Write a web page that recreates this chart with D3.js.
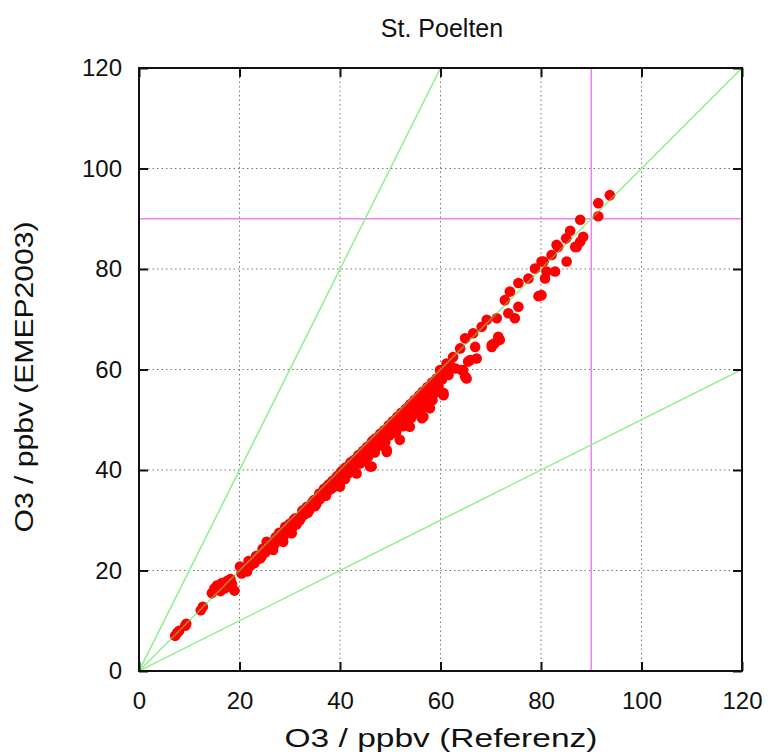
<!DOCTYPE html>
<html>
<head>
<meta charset="utf-8">
<script src="https://cdn.jsdelivr.net/npm/d3@7"></script>
<style>
  body { margin: 0; background: #fff; }
  text { font-family: "Liberation Sans", Arial, sans-serif; fill: #111; }
</style>
</head>
<body>
<div id="chart"></div>
<script>
// O3 reference (x) vs EMEP2003 model (y), ppbv
const refO3 = [
  7.2, 7.6, 8.0, 9.2, 9.4, 12.3, 12.7, 14.5, 15.0, 15.5, 16.0, 16.5, 16.2, 17.0, 17.5, 18.0, 18.5, 19.0, 18.2, 17.3,
  20.1, 20.4, 21.2, 21.8, 22.7, 23.3, 24.1, 24.6, 25.4, 25.9, 26.7, 27.2, 27.9, 28.7, 29.1, 29.6, 30.4, 30.8, 31.4, 32.0,
  32.5, 33.0, 33.4, 33.9, 34.5, 35.0, 35.4, 35.9,
  20.8, 21.5, 22.2, 23.0, 23.8, 24.4, 25.1, 25.7, 26.3, 27.0, 27.6, 28.2, 28.9, 29.4, 30.0, 30.6, 31.1, 31.8, 32.3, 32.8,
  33.6, 34.2, 34.8, 35.3, 35.7,
  36.3, 36.8, 37.2, 37.6, 38.0, 38.5, 38.9, 39.3, 39.8, 40.0, 40.2, 40.7, 41.1, 41.5, 42.0, 42.4, 42.8, 43.3, 43.3, 43.7,
  44.1, 44.6, 45.0, 45.4, 45.8, 46.0, 46.3, 46.3, 46.7, 47.1, 47.5, 48.0, 48.4, 48.8, 49.3, 49.3, 49.2, 49.7, 50.1, 50.5,
  51.0, 51.4, 51.9, 51.8, 52.2, 52.7, 53.1, 53.5, 53.9, 54.0, 54.4, 54.8, 55.2, 55.7, 56.1, 56.3, 56.6, 56.5, 57.0, 57.4,
  57.9, 57.8, 58.3, 58.7, 59.2, 59.6, 59.9, 60.6, 60.6, 60.3, 60.8, 61.2, 61.6, 62.0, 62.5, 63.0, 63.9, 64.2, 64.5, 64.9,
  36.0, 36.6, 37.0, 37.4, 37.9, 38.3, 38.7, 39.1, 39.6, 40.0, 40.5, 40.9, 41.3, 41.8, 42.2, 42.6, 43.0, 43.5, 43.9, 44.4,
  44.8, 45.2, 45.6, 46.1, 46.5, 46.9, 47.3, 47.8, 48.2, 48.6, 49.0, 49.5, 49.9, 50.3, 50.8, 51.2, 51.6, 52.0, 52.5, 52.9,
  53.3, 53.7, 54.2, 54.6, 55.0, 55.4, 55.9, 56.3, 56.8, 57.2, 57.6, 58.1, 58.5, 58.9, 59.4, 60.0,
  41.0, 44.0, 47.0, 50.6, 53.0, 55.6, 58.4,
  64.9, 65.2, 65.5, 65.9, 66.5, 66.9, 67.2, 68.2, 69.2, 70.2, 70.2, 70.8, 71.2, 71.5, 71.8, 72.8, 73.5, 73.8, 74.8, 75.5,
  75.5, 77.5, 78.8, 79.5, 80.1, 80.1, 80.5, 80.8, 81.1, 82.1, 82.8, 83.1, 83.4, 85.0, 85.1, 85.8, 86.8, 87.1, 87.8, 87.8,
  88.4, 91.4, 91.4, 93.7
];
const emepO3 = [
  7.0, 7.6, 8.0, 9.0, 9.4, 12.1, 12.8, 15.5, 16.4, 17.0, 16.6, 17.5, 15.9, 16.4, 17.9, 16.8, 17.3, 16.0, 18.3, 16.9,
  20.8, 19.4, 20.5, 21.9, 21.8, 22.9, 22.4, 24.3, 25.7, 24.8, 24.1, 26.6, 27.5, 25.7, 28.7, 27.8, 27.4, 30.1, 29.2, 30.0,
  31.9, 31.2, 32.7, 32.0, 33.6, 32.8, 34.0, 35.3,
  19.9, 19.8, 21.0, 21.5, 23.0, 22.8, 23.6, 25.0, 25.1, 25.2, 26.0, 27.3, 27.0, 28.0, 29.3, 28.6, 30.4, 30.3, 30.6, 32.1,
  31.5, 32.9, 34.0, 33.2, 34.6,
  35.0, 36.2, 34.9, 36.9, 36.1, 37.8, 36.7, 38.6, 37.5, 36.7, 39.6, 38.4, 40.5, 39.2, 41.3, 40.0, 42.0, 39.3, 41.2, 43.0,
  42.1, 43.8, 41.9, 44.6, 43.5, 40.7, 45.5, 40.7, 44.0, 46.3, 45.0, 47.2, 45.7, 47.9, 43.6, 44.0, 46.6, 48.9, 47.5, 49.7,
  48.0, 50.6, 46.0, 49.2, 51.4, 50.0, 52.2, 50.8, 48.6, 53.1, 51.7, 53.9, 52.2, 54.8, 53.0, 50.3, 50.6, 55.6, 54.3, 56.5,
  52.3, 55.0, 57.4, 56.0, 58.2, 56.6, 59.9, 54.9, 55.3, 58.0, 60.0, 61.2, 58.9, 60.7, 62.5, 60.2, 64.2, 59.9, 59.9, 58.6,
  34.2, 35.5, 36.3, 35.6, 37.2, 36.3, 37.9, 37.2, 38.9, 38.1, 39.9, 38.9, 39.9, 40.8, 41.6, 40.6, 41.9, 42.6, 41.4, 43.3,
  42.6, 44.1, 42.7, 44.6, 45.8, 43.5, 45.9, 46.7, 44.9, 47.5, 45.5, 48.2, 46.9, 48.8, 49.8, 47.6, 49.8, 50.7, 48.7, 51.5,
  49.9, 52.7, 50.4, 52.9, 53.8, 51.4, 54.3, 52.2, 55.0, 53.4, 56.2, 54.6, 57.2, 55.3, 57.3, 58.5,
  38.2, 41.3, 44.2, 47.4, 49.3, 51.6, 53.9,
  66.2, 58.2, 61.6, 61.9, 67.2, 64.5, 62.2, 68.5, 69.9, 64.9, 64.5, 65.2, 70.2, 66.5, 65.9, 73.8, 71.2, 75.5, 70.2, 72.5,
  77.2, 78.1, 80.1, 74.6, 74.8, 81.5, 81.5, 78.1, 79.5, 82.8, 79.5, 84.8, 84.4, 86.1, 81.5, 87.6, 84.4, 84.4, 85.4, 89.8,
  86.4, 93.1, 90.5, 94.7
];
const ticks = [0, 20, 40, 60, 80, 100, 120];
const ratioLines = [2, 1, 0.5];     // y = k * x guide lines
const threshold = 90;               // ppbv marker lines

const title = "St. Poelten";
const xTitle = "O3 / ppbv (Referenz)";
const yTitle = "O3 / ppbv (EMEP2003)";

const points = refO3.map((d, i) => ({ x: d, y: emepO3[i] }));

const W = 774, H = 754;
const margin = { top: 68, right: 32, bottom: 83, left: 139 };
const width = W - margin.left - margin.right;
const height = H - margin.top - margin.bottom;

const svg = d3.select("#chart").append("svg")
  .attr("width", W)
  .attr("height", H);

const g = svg.append("g")
  .attr("transform", "translate(" + margin.left + "," + margin.top + ")");

const x = d3.scaleLinear().domain([0, 120]).range([0, width]);
const y = d3.scaleLinear().domain([0, 120]).range([height, 0]);

g.append("clipPath").attr("id", "plot-clip")
  .append("rect").attr("width", width).attr("height", height);

// dotted grid
g.append("g").selectAll("line")
  .data(ticks.slice(1, -1))
  .enter().append("line")
  .attr("x1", d => x(d)).attr("x2", d => x(d))
  .attr("y1", 0).attr("y2", height)
  .attr("stroke", "#777").attr("stroke-width", 1)
  .attr("stroke-dasharray", "1.5,3");
g.append("g").selectAll("line")
  .data(ticks.slice(1, -1))
  .enter().append("line")
  .attr("y1", d => y(d)).attr("y2", d => y(d))
  .attr("x1", 0).attr("x2", width)
  .attr("stroke", "#777").attr("stroke-width", 1)
  .attr("stroke-dasharray", "1.5,3");

// threshold lines
g.append("line")
  .attr("x1", x(threshold)).attr("x2", x(threshold))
  .attr("y1", 0).attr("y2", height)
  .attr("stroke", "#ee82ee").attr("stroke-width", 1.5);
g.append("line")
  .attr("x1", 0).attr("x2", width)
  .attr("y1", y(threshold)).attr("y2", y(threshold))
  .attr("stroke", "#ee82ee").attr("stroke-width", 1.5);

// ratio guide lines
const guides = g.append("g").attr("clip-path", "url(#plot-clip)");
guides.selectAll("line")
  .data(ratioLines)
  .enter().append("line")
  .attr("x1", x(0)).attr("y1", y(0))
  .attr("x2", d => x(120)).attr("y2", d => y(120 * d))
  .attr("stroke", "#90ee90").attr("stroke-width", 1.5);

// points
g.append("g").selectAll("circle")
  .data(points)
  .enter().append("circle")
  .attr("cx", d => x(d.x))
  .attr("cy", d => y(d.y))
  .attr("r", 5.3)
  .attr("fill", "#ff0000");

// 1:1 line shows through the points as a darker stroke
const dotClip = g.append("clipPath").attr("id", "dot-clip");
dotClip.selectAll("circle")
  .data(points)
  .enter().append("circle")
  .attr("cx", d => x(d.x))
  .attr("cy", d => y(d.y))
  .attr("r", 5.3);
g.append("line")
  .attr("clip-path", "url(#dot-clip)")
  .attr("x1", x(0)).attr("y1", y(0))
  .attr("x2", x(120)).attr("y2", y(120))
  .attr("stroke", "#b07a2a").attr("stroke-width", 1.6);

// frame
g.append("rect")
  .attr("width", width).attr("height", height)
  .attr("fill", "none").attr("stroke", "#111").attr("stroke-width", 2);

// axes with inward ticks
const fmt = d3.format("d");
const xAxis = g.append("g")
  .attr("transform", "translate(0," + height + ")")
  .call(d3.axisBottom(x).tickValues(ticks).tickFormat(fmt).tickSizeInner(-9).tickSizeOuter(0).tickPadding(21));
const xAxisTop = g.append("g")
  .call(d3.axisTop(x).tickValues(ticks).tickFormat("").tickSizeInner(-9).tickSizeOuter(0));
const yAxis = g.append("g")
  .call(d3.axisLeft(y).tickValues(ticks).tickFormat(fmt).tickSizeInner(-9).tickSizeOuter(0).tickPadding(17));
const yAxisRight = g.append("g")
  .attr("transform", "translate(" + width + ",0)")
  .call(d3.axisRight(y).tickValues(ticks).tickFormat("").tickSizeInner(-9).tickSizeOuter(0));

[xAxis, xAxisTop, yAxis, yAxisRight].forEach(a => {
  a.select(".domain").remove();
  a.selectAll(".tick line").attr("stroke", "#111").attr("stroke-width", 2);
  a.selectAll(".tick text")
    .style("font-family", "'Liberation Sans', Arial, sans-serif")
    .style("font-size", "24px")
    .attr("fill", "#111");
});

// titles
svg.append("text")
  .attr("x", 442).attr("y", 37)
  .attr("text-anchor", "middle")
  .style("font-size", "25px")
  .text(title);

svg.append("text")
  .attr("x", 441).attr("y", 747)
  .attr("text-anchor", "middle")
  .style("font-size", "26px")
  .attr("textLength", 313).attr("lengthAdjust", "spacingAndGlyphs")
  .text(xTitle);

svg.append("text")
  .attr("transform", "translate(33,377) rotate(-90)")
  .attr("text-anchor", "middle")
  .style("font-size", "26px")
  .attr("textLength", 311).attr("lengthAdjust", "spacingAndGlyphs")
  .text(yTitle);
</script>
</body>
</html>
